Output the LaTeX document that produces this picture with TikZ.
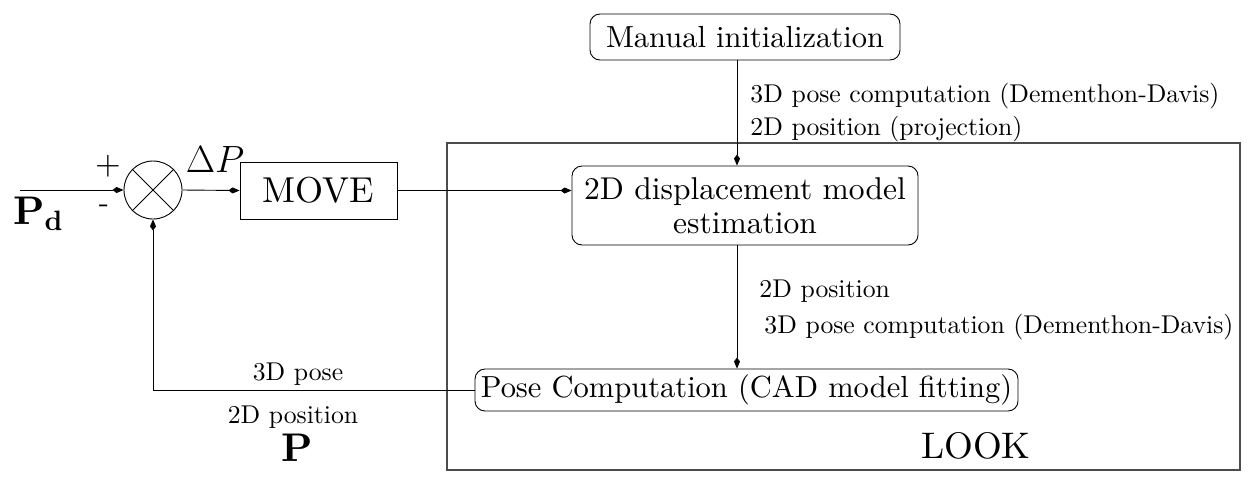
\RequirePackage{fix-cm}
\documentclass[tikz,border=0pt]{standalone}
\usepackage{fontspec}
\setmainfont{lmroman10-regular.otf}[BoldFont=lmroman10-bold.otf,ItalicFont=lmroman10-italic.otf]
\usepackage{amsmath}
\usepackage{amssymb}
\usetikzlibrary{arrows.meta}
\newcommand\lblfont{\fontsize{25.7}{28}\selectfont}
\newcommand\boxfont{\fontsize{30.5}{33}\selectfont}
\newcommand\bigfont{\fontsize{36}{40}\selectfont}
\newcommand\hugefont{\fontsize{40}{44}\selectfont}
\tikzset{
  >={Kite[length=11pt,width=6pt,inset=4pt]},
  rbox/.style={draw,rounded corners=10pt,inner sep=0pt,font=\boxfont,align=center},
  lbl/.style={font=\lblfont,inner sep=0pt},
  big/.style={font=\bigfont,inner sep=0pt}
}
\begin{document}
\begin{tikzpicture}[x=1pt,y=-1pt,line width=0.9pt]
\useasboundingbox (0,0) rectangle (1255,483);
\draw[black!70,line width=1.5pt] (447,143) rectangle (1240,470);
\node[big,font=\fontsize{37}{40}\selectfont,anchor=base] (look) at (976,458) {LOOK};
\node[rbox,minimum width=310pt,minimum height=46pt] (manual) at (745,37) {Manual initialization};
\node[rbox,font=\fontsize{31.5}{34}\selectfont,minimum width=346pt,minimum height=79pt] (disp) at (745,205.5) {2D displacement model\\estimation};
\node[rbox,minimum width=543pt,minimum height=42pt] (pose) at (746.5,390) {Pose Computation (CAD model fitting)};
\node[draw,big,minimum width=157pt,minimum height=57pt] (move) at (318.5,190.5) {MOVE};
\node[draw,circle,minimum size=58pt,inner sep=0pt] (sum) at (153,190) {};
\draw (sum.45) -- (sum.225) (sum.135) -- (sum.315);
\coordinate (in) at (20,190);
\coordinate (vx) at (737,0);
\draw[->] (in) -- (sum.west);
\draw[->] (sum.east) -- (move.west);
\draw[->] (move.east) -- (move.east -| disp.west);
\draw[->] (manual.south -| vx) -- (disp.north -| vx);
\draw[->] (disp.south -| vx) -- (pose.north -| vx);
\draw[->] (pose.west) -- (pose.west -| sum.south) -- (sum.south);
\node[lbl,font=\fontsize{33}{36}\selectfont] (plus) at (108,166) {+};
\node[lbl,font=\boxfont] (minus) at (104,209) {-};
\node[big,font=\hugefont] (pd) at (38,214) {$\mathbf{P_d}$};
\node[big,font=\fontsize{38}{42}\selectfont] (dp) at (215,160) {$\Delta P$};
\node[lbl,anchor=base west] (l1) at (750,102) {3D pose computation (Dementhon-Davis)};
\node[lbl,anchor=base west] (l2) at (750,135) {2D position (projection)};
\node[lbl,anchor=base west] (l3) at (759,297) {2D position};
\node[lbl,anchor=base west] (l4) at (764,333) {3D pose computation (Dementhon-Davis)};
\node[lbl,anchor=base] (l5) at (298,380) {3D pose};
\node[lbl,anchor=base] (l6) at (293,423) {2D position};
\node[big,font=\hugefont,anchor=base] (p) at (297,461) {$\mathbf{P}$};
\end{tikzpicture}
\end{document}
